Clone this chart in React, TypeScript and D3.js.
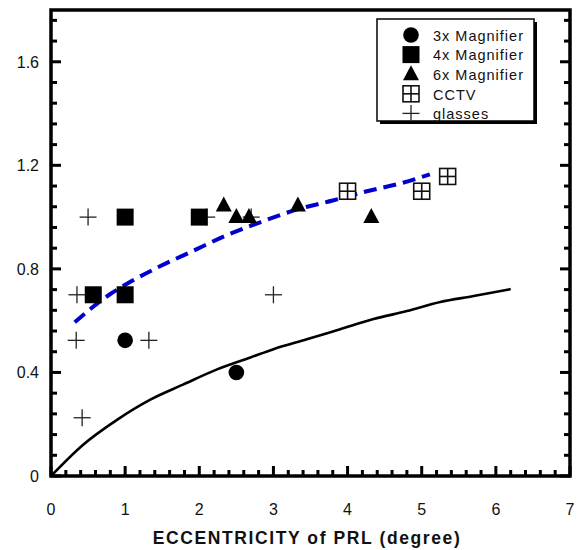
import React from "react";
import * as d3 from "d3";

// points: [eccentricity, value]
const mag3 = [[1.0, 0.524], [2.5, 0.4]];
const mag4 = [[0.57, 0.7], [1.0, 0.7], [1.0, 1.0], [2.0, 1.0]];
const mag6 = [[2.33, 1.045], [2.5, 1.0], [2.67, 1.0], [3.33, 1.045], [4.32, 1.0]];
const cctv = [[4.0, 1.1], [5.0, 1.1], [5.35, 1.157]];
const glasses = [
  [0.5, 1.0], [0.35, 0.7], [0.34, 0.524], [1.32, 0.524],
  [0.42, 0.225], [3.0, 0.7], [2.1, 1.0], [2.7, 1.0],
];

// solid curve
const fitX = [0, 0.43, 0.89, 1.34, 1.78, 2.24, 2.69, 3.0, 3.45, 3.9, 4.35, 4.8, 5.25, 5.7, 6.2];
const fitY = [0, 0.12, 0.217, 0.295, 0.353, 0.412, 0.458, 0.49, 0.528, 0.567, 0.606, 0.637, 0.672, 0.695, 0.722];

// blue dashed curve
const dashX = [0.32, 0.8, 1.07, 1.47, 1.92, 2.37, 2.82, 3.36, 3.8, 4.26, 4.71, 5.11];
const dashY = [0.594, 0.703, 0.75, 0.81, 0.87, 0.93, 0.98, 1.033, 1.064, 1.1, 1.13, 1.165];

const xTicks = [0, 1, 2, 3, 4, 5, 6, 7];
const yTicks = [0, 0.4, 0.8, 1.2, 1.6];
const legendLabels = ["3x Magnifier", "4x Magnifier", "6x Magnifier", "CCTV", "glasses"];

const W = 581;
const H = 550;
const FONT = "'Liberation Sans', Arial, Helvetica, sans-serif";

const left = 51, right = 570, top = 10, bottom = 476;

const Marker = ({ kind, cx, cy }: { kind: string; cx: number; cy: number }) => {
  if (kind === "circle") return <circle cx={cx} cy={cy} r={7.8} fill="#000" />;
  if (kind === "square")
    return <rect x={cx - 8.5} y={cy - 8.5} width={17} height={17} fill="#000" />;
  if (kind === "triangle")
    return <path d={`M${cx},${cy - 9}L${cx + 8},${cy + 6}L${cx - 8},${cy + 6}Z`} fill="#000" />;
  if (kind === "cctv")
    return (
      <g stroke="#111" strokeWidth={1.6} fill="none">
        <rect x={cx - 8} y={cy - 8} width={16} height={16} fill="#fff" />
        <line x1={cx} x2={cx} y1={cy - 8} y2={cy + 8} />
        <line x1={cx - 8} x2={cx + 8} y1={cy} y2={cy} />
      </g>
    );
  return (
    <g stroke="#222" strokeWidth={1.3}>
      <line x1={cx - 8.5} x2={cx + 8.5} y1={cy} y2={cy} />
      <line x1={cx} x2={cx} y1={cy - 8.5} y2={cy + 8.5} />
    </g>
  );
};

export default function App() {
  const x = d3.scaleLinear().domain([0, 7]).range([left, right]);
  const y = d3.scaleLinear().domain([0, 1.8]).range([bottom, top]);

  const curve = d3
    .line<[number, number]>()
    .x((d) => x(d[0]))
    .y((d) => y(d[1]))
    .curve(d3.curveMonotoneX);

  const fitPath = curve(fitX.map((v, i) => [v, fitY[i]] as [number, number]));
  const dashPath = curve(dashX.map((v, i) => [v, dashY[i]] as [number, number]));

  const xMinor = d3.range(0, 7.001, 0.2);
  const yMinor = d3.range(0, 1.8, 0.08);
  const isMajorX = (v: number) => Math.abs(v - Math.round(v)) < 1e-6;
  const isMajorY = (v: number) => Math.abs(v / 0.4 - Math.round(v / 0.4)) < 1e-6;

  const series: [string, number[][]][] = [
    ["plus", glasses],
    ["circle", mag3],
    ["square", mag4],
    ["triangle", mag6],
    ["cctv", cctv],
  ];
  const legendKinds = ["circle", "square", "triangle", "cctv", "plus"];

  return (
    <svg width={W} height={H} style={{ position: "absolute", left: 0, top: 0, background: "#fff" }} fontFamily={FONT}>
      <rect width={W} height={H} fill="#fff" />

      {/* curves */}
      <path d={fitPath || ""} fill="none" stroke="#000" strokeWidth={2.6} />
      <path d={dashPath || ""} fill="none" stroke="#0000d0" strokeWidth={4} strokeDasharray="13 7" />

      {/* points */}
      {series.map(([kind, pts]) =>
        pts.map((p, i) => <Marker key={kind + i} kind={kind} cx={x(p[0])} cy={y(p[1])} />)
      )}

      {/* ticks */}
      <g stroke="#000" strokeWidth={3}>
        {xMinor.map((v, i) => (
          <line key={"xt" + i} x1={x(v)} x2={x(v)} y1={bottom} y2={bottom - (isMajorX(v) ? 10 : 6)} />
        ))}
        {yMinor.map((v, i) => (
          <g key={"yt" + i}>
            <line x1={left} x2={left + (isMajorY(v) ? 10 : 6)} y1={y(v)} y2={y(v)} />
            <line x1={right} x2={right - (isMajorY(v) ? 10 : 6)} y1={y(v)} y2={y(v)} />
          </g>
        ))}
      </g>

      {/* frame */}
      <rect x={left} y={top} width={right - left} height={bottom - top} fill="none" stroke="#000" strokeWidth={3.5} />

      {/* tick labels */}
      {xTicks.map((v) => (
        <text key={"xl" + v} x={x(v)} y={515} textAnchor="middle" fontSize={16} fill="#111">
          {v}
        </text>
      ))}
      {yTicks.map((v) => (
        <text key={"yl" + v} x={39} y={y(v) + 6} textAnchor="end" fontSize={16} fill="#111">
          {v === 0 ? "0" : v.toFixed(1)}
        </text>
      ))}

      <text x={307} y={544} textAnchor="middle" fontSize={17.5} fontWeight="bold" fill="#111" letterSpacing={1.6}>
        ECCENTRICITY of PRL (degree)
      </text>

      {/* legend */}
      <g>
        <rect x={380} y={22} width={157} height={102} fill="#000" />
        <rect x={377} y={19} width={157} height={102} fill="#fff" stroke="#000" strokeWidth={1.5} />
        {legendLabels.map((lab, i) => (
          <g key={lab}>
            <Marker kind={legendKinds[i]} cx={411} cy={35 + i * 19.6} />
            <text x={433} y={40.5 + i * 19.7} fontSize={14.5} fill="#111" letterSpacing={1}>
              {lab}
            </text>
          </g>
        ))}
      </g>
    </svg>
  );
}
